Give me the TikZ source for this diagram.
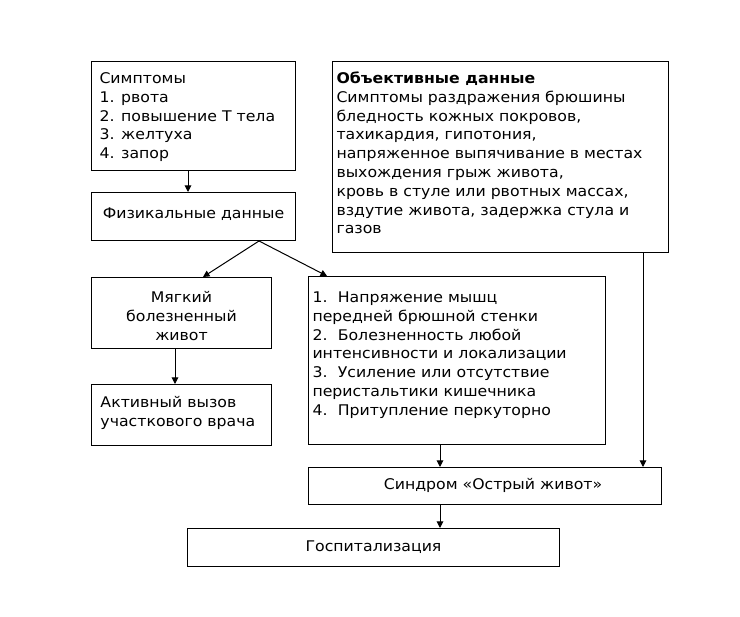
\documentclass[tikz,border=0pt]{standalone}
\usepackage{fontspec}
\setmainfont[FakeStretch=1.07]{DejaVu Sans}
\usetikzlibrary{arrows.meta}
% #1 width, #2 height, #3 top pad, #4 alignment setup, #5 text
\newcommand{\cellbox}[5]{\parbox[c][#2][t]{#1}{\vspace*{#3}#4\strut #5\par}}
\newcommand{\lft}[1]{\raggedright\leftskip=#1\relax}
\newcommand{\ctr}{\centering}
\tikzset{
  box/.style={draw=black, line width=1pt, inner sep=0pt, anchor=north west,
    font=\fontsize{14.7pt}{18.8pt}\selectfont},
  arr/.style={draw=black, line width=1pt, -{Triangle[length=6.5pt,width=6.5pt]}},
}
\begin{document}
\begin{tikzpicture}[x=1pt,y=-1pt]
\useasboundingbox[fill=white] (0,0) rectangle (740,617);
\node[box] (sym) at (91,61) {\cellbox{204pt}{109pt}{8.8pt}{\lft{8pt}}{Симптомы\\1. рвота\\2. повышение Т тела\\3. желтуха\\4. запор}};
\node[box] (phys) at (91,192) {\cellbox{204pt}{48pt}{12.8pt}{\ctr}{Физикальные данные}};
\node[box] (obj) at (332,61) {\cellbox{336pt}{191pt}{8.8pt}{\lft{4pt}}{\textbf{Объективные данные}\\Симптомы раздражения брюшины\\бледность кожных покровов,\\тахикардия, гипотония,\\напряженное выпячивание в местах\\выхождения грыж живота,\\кровь в стуле или рвотных массах,\\вздутие живота, задержка стула и\\газов}};
\node[box] (soft) at (91,277) {\cellbox{180pt}{71pt}{11.8pt}{\ctr}{Мягкий\\болезненный\\живот}};
\node[box] (act) at (91,384) {\cellbox{180pt}{61pt}{10.3pt}{\lft{9pt}}{Активный вызов\\участкового врача}};
\node[box] (list) at (308,276) {\cellbox{297pt}{168pt}{12.8pt}{\lft{4pt}}{1.\hspace{0.7em}Напряжение мышц\\передней брюшной стенки\\2.\hspace{0.7em}Болезненность любой\\интенсивности и локализации\\3.\hspace{0.7em}Усиление или отсутствие\\перистальтики кишечника\\4.\hspace{0.7em}Притупление перкуторно}};
\node[box] (syn) at (308,467) {\cellbox{353pt}{37pt}{8.8pt}{\centering\leftskip=16pt plus 1fil\relax}{Синдром «Острый живот»}};
\node[box] (hosp) at (187,528) {\cellbox{372pt}{38pt}{9.8pt}{\ctr}{Госпитализация}};
\coordinate (xa) at (188,0);
\coordinate (xb) at (259,0);
\coordinate (xc) at (203,0);
\coordinate (xd) at (327,0);
\coordinate (xe) at (175,0);
\coordinate (xf) at (440,0);
\coordinate (xg) at (643,0);
\draw[arr] (xa |- sym.south) -- (xa |- phys.north);
\draw[arr] (xb |- phys.south) -- (xc |- soft.north);
\draw[arr] (xb |- phys.south) -- (xd |- list.north);
\draw[arr] (xe |- soft.south) -- (xe |- act.north);
\draw[arr] (xf |- list.south) -- (xf |- syn.north);
\draw[arr] (xg |- obj.south) -- (xg |- syn.north);
\draw[arr] (xf |- syn.south) -- (xf |- hosp.north);
\end{tikzpicture}
\end{document}
